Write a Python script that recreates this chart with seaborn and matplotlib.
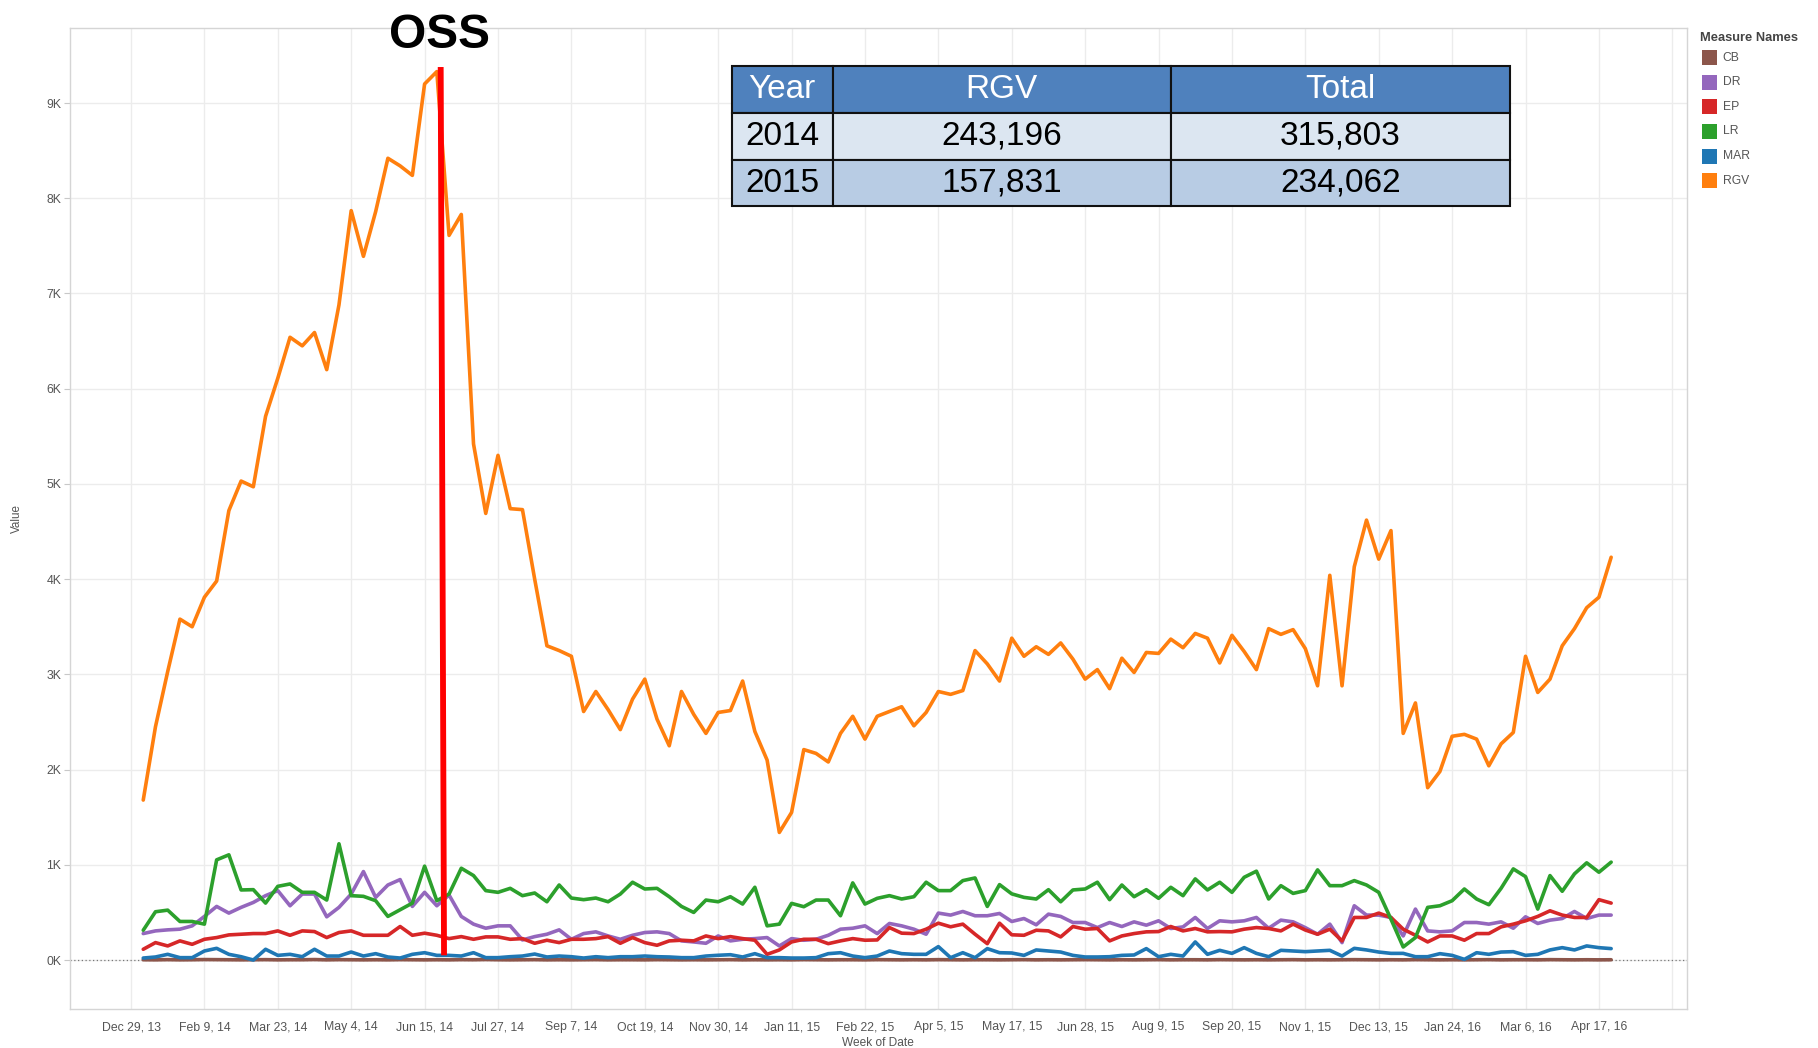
import matplotlib
matplotlib.use("Agg")
import pandas as pd
import matplotlib.pyplot as plt
from matplotlib.patches import Rectangle
import seaborn as sns

# weekly apprehension counts, week ending dates
first_week = "2014-01-05"
n_weeks = 121

rgv = [1680, 2450, 3030, 3580, 3500, 3810, 3980, 4720, 5030, 4970,
       5710, 6110, 6540, 6450, 6590, 6200, 6880, 7870, 7390, 7860,
       8420, 8340, 8240, 9200, 9330, 7610, 7830, 5420, 4690, 5300,
       4740, 4730, 4000, 3300, 3250, 3190, 2610, 2820, 2630, 2420,
       2740, 2950, 2530, 2250, 2820, 2580, 2380, 2600, 2620, 2930,
       2400, 2100, 1340, 1550, 2210, 2170, 2080, 2380, 2560, 2320,
       2560, 2610, 2660, 2460, 2600, 2820, 2790, 2830, 3250, 3110,
       2930, 3380, 3190, 3290, 3210, 3330, 3160, 2950, 3050, 2850,
       3170, 3020, 3230, 3220, 3370, 3280, 3430, 3380, 3120, 3410,
       3240, 3050, 3480, 3420, 3470, 3270, 2880, 4040, 2880, 4130,
       4620, 4210, 4510, 2380, 2700, 1810, 1980, 2350, 2370, 2320,
       2040, 2270, 2390, 3190, 2810, 2950, 3300, 3480, 3700, 3810,
       4230]

lr = [313, 507, 524, 405, 405, 377, 1052, 1105, 736, 739,
      598, 774, 799, 711, 711, 630, 1221, 676, 669, 623,
      458, 528, 598, 986, 623, 693, 964, 887, 729, 711,
      753, 676, 704, 612, 788, 651, 634, 651, 612, 693,
      817, 746, 753, 665, 563, 500, 630, 612, 665, 588,
      764, 359, 377, 595, 560, 630, 630, 465, 810, 588,
      648, 676, 641, 665, 817, 729, 729, 834, 862, 563,
      792, 695, 658, 641, 739, 612, 736, 746, 817, 634,
      788, 665, 739, 648, 764, 676, 852, 736, 817, 711,
      869, 933, 641, 781, 700, 729, 947, 781, 781, 834,
      788, 711, 429, 137, 236, 553, 570, 623, 746, 641,
      581, 753, 957, 876, 535, 887, 722, 905, 1021, 922,
      1028]

dr = [278, 306, 317, 324, 359, 458, 563, 493, 553, 605,
      676, 729, 570, 693, 693, 454, 553, 693, 929, 658,
      788, 845, 563, 711, 570, 683, 458, 377, 334, 359,
      359, 211, 246, 271, 317, 218, 278, 296, 253, 218,
      260, 289, 296, 278, 201, 190, 176, 253, 201, 218,
      225, 236, 148, 225, 208, 218, 260, 324, 334, 359,
      278, 384, 359, 324, 271, 493, 472, 510, 465, 465,
      489, 405, 436, 370, 482, 458, 394, 394, 341, 394,
      352, 401, 366, 412, 331, 348, 447, 331, 412, 401,
      412, 447, 334, 419, 401, 340, 271, 377, 183, 570,
      472, 472, 447, 253, 535, 306, 296, 306, 394, 394,
      377, 401, 334, 454, 384, 419, 436, 510, 436, 472,
      472]

ep = [113, 183, 148, 201, 165, 218, 236, 264, 271, 278,
      278, 306, 260, 306, 299, 236, 289, 306, 260, 260,
      260, 352, 260, 282, 260, 225, 246, 218, 243, 243,
      218, 225, 176, 208, 183, 218, 218, 225, 246, 176,
      236, 183, 155, 201, 208, 201, 253, 225, 246, 225,
      208, 60, 106, 190, 218, 218, 172, 201, 225, 208,
      211, 341, 282, 278, 324, 387, 349, 377, 271, 172,
      387, 265, 260, 313, 306, 243, 352, 324, 331, 201,
      253, 278, 296, 299, 352, 306, 331, 296, 299, 296,
      324, 341, 331, 306, 377, 315, 271, 324, 201, 447,
      447, 493, 447, 324, 260, 190, 253, 253, 208, 278,
      278, 348, 377, 412, 458, 517, 472, 447, 447, 634,
      598]

mar = [21, 32, 60, 25, 25, 95, 123, 60, 35, 0,
       113, 49, 60, 35, 113, 42, 42, 84, 42, 67,
       32, 21, 60, 77, 49, 49, 42, 77, 25, 25,
       35, 42, 63, 32, 42, 35, 21, 35, 25, 35,
       35, 42, 35, 32, 25, 25, 42, 50, 56, 32,
       67, 25, 25, 21, 21, 25, 67, 77, 42, 25,
       42, 95, 67, 60, 60, 141, 25, 77, 25, 120,
       77, 74, 49, 106, 95, 84, 49, 32, 32, 35,
       49, 53, 120, 35, 60, 42, 190, 60, 102, 70,
       130, 70, 35, 102, 95, 88, 95, 102, 42, 123,
       106, 84, 70, 70, 35, 35, 67, 49, 7, 77,
       60, 84, 88, 49, 60, 106, 130, 106, 148, 130,
       120]

cb = [3, 2, 4, 2, 3, 5, 4, 3, 2, 3,
      4, 2, 3, 3, 5, 2, 4, 3, 2, 3,
      2, 4, 3, 2, 3, 2, 4, 3, 5, 3,
      2, 3, 4, 2, 3, 2, 3, 4, 2, 3,
      3, 2, 4, 3, 2, 3, 2, 3, 4, 2,
      3, 2, 3, 2, 4, 3, 2, 3, 3, 2,
      4, 3, 2, 3, 2, 4, 3, 2, 3, 3,
      2, 3, 4, 2, 3, 2, 3, 4, 3, 2,
      3, 2, 3, 4, 2, 3, 3, 2, 4, 3,
      2, 3, 2, 3, 4, 2, 3, 2, 3, 4,
      3, 2, 3, 2, 4, 3, 2, 3, 2, 3,
      4, 2, 3, 3, 2, 4, 3, 2, 3, 2,
      3]

measures = ["CB", "DR", "EP", "LR", "MAR", "RGV"]
colors = ["#8c564b", "#9467bd", "#d62728", "#2ca02c", "#1f77b4", "#ff7f0e"]

table_header = ["Year", "RGV", "Total"]
table_rows = [["2014", "243,196", "315,803"],
              ["2015", "157,831", "234,062"]]

# OSS marker line (top, bottom)
oss_dates = ["2014-06-24 05:00", "2014-06-26 03:00"]
oss_values = [9378, 50]

## build long table
dates = pd.date_range(first_week, periods=n_weeks, freq="7D")
series = {"CB": cb, "DR": dr, "EP": ep, "LR": lr, "MAR": mar, "RGV": rgv}
frames = []
for name in measures:
    frames.append(pd.DataFrame({"Week of Date": dates, "Value": series[name], "Measure Names": name}))
df = pd.concat(frames, ignore_index=True)

sns.set_style("white")
plt.rcParams["font.family"] = ["Liberation Sans", "DejaVu Sans"]
grey = "#555555"

fig = plt.figure(figsize=(18.18, 10.48), dpi=100)
ax = fig.add_axes([69.6 / 1818, 1 - 1008.6 / 1048, (1687 - 69.6) / 1818, (1008.6 - 27.8) / 1048])

week0 = pd.Timestamp("2013-12-29")
ax.axhline(0, color="#777777", lw=0.9, ls=(0, (1, 2)), zorder=1)

sns.lineplot(data=df, x="Week of Date", y="Value", hue="Measure Names",
             hue_order=measures, palette=colors, linewidth=2.6,
             estimator=None, legend=False, ax=ax, zorder=3)

ax.plot(pd.to_datetime(oss_dates), oss_values, color="#ff0000", lw=4.2, zorder=5,
        solid_capstyle="butt")

# axes limits
ax.set_xlim(week0 + pd.Timedelta(weeks=-5.02), week0 + pd.Timedelta(weeks=127.2))
ax.set_ylim(-510, 9790)

# ticks
major = [week0 + pd.Timedelta(weeks=6 * k) for k in range(22)]
labels = [f"{d:%b} {d.day}, {d:%y}" for d in major[:21]] + [""]
ax.set_xticks(major)
ax.set_xticklabels(labels)
minor = [week0 + pd.Timedelta(weeks=k) for k in range(-5, 128)]
ax.set_xticks(minor, minor=True)
yt = list(range(0, 10000, 1000))
ax.set_yticks(yt)
ax.set_yticklabels([f"{v // 1000}K" for v in yt])

ax.tick_params(axis="x", which="major", length=4, width=0.8, color="#c8c8c8",
               labelsize=8.8, labelcolor=grey, pad=5)
ax.tick_params(axis="x", which="minor", length=3, width=0.8, color="#c8c8c8")
ax.tick_params(axis="y", length=4, width=0.8, color="#c8c8c8",
               labelsize=8.8, labelcolor=grey, pad=2, left=True)

ax.grid(True, which="major", color="#ececec", lw=1)
ax.set_axisbelow(True)
for s in ax.spines.values():
    s.set_color("#d5d5d5")
    s.set_linewidth(1)

ax.set_xlabel("Week of Date", fontsize=8.6, color=grey, labelpad=3)
ax.set_ylabel("Value", fontsize=8.4, color=grey, labelpad=17)

# OSS label
fig.text(439.5 / 1818, 1 - 48 / 1048, "OSS", ha="center", va="baseline",
         fontsize=34.5, fontweight="bold", color="black")

# summary table
tax = fig.add_axes([731.6 / 1818, 1 - 206.4 / 1048, 777.9 / 1818, 140.3 / 1048])
tax.axis("off")
tbl = tax.table(cellText=table_rows, colLabels=table_header, cellLoc="center",
                colWidths=[0.1297, 0.4351, 0.4351], bbox=[0, 0, 1, 1])
tbl.auto_set_font_size(False)
tbl.set_fontsize(24)
row_colors = {0: "#4f81bd", 1: "#dce6f1", 2: "#b8cce4"}
for (r, c), cell in tbl.get_celld().items():
    cell.set_facecolor(row_colors[r])
    cell.set_edgecolor("#111111")
    cell.set_linewidth(1.5)
    txt = cell.get_text()
    txt.set_color("white" if r == 0 else "black")

# legend
fig.text(1700 / 1818, 1 - 38 / 1048, "Measure Names", ha="left", va="center",
         fontsize=9.3, fontweight="bold", color="#444444")
for i, (name, col) in enumerate(zip(measures, colors)):
    yc = 57.7 + i * 24.6
    fig.add_artist(Rectangle((1702 / 1818, 1 - (yc + 7.5) / 1048), 15 / 1818, 15 / 1048,
                             transform=fig.transFigure, facecolor=col, edgecolor="none"))
    fig.text(1722.5 / 1818, 1 - yc / 1048, name, ha="left", va="center",
             fontsize=8.7, color=grey)

fig.savefig("out.png", dpi=100)
